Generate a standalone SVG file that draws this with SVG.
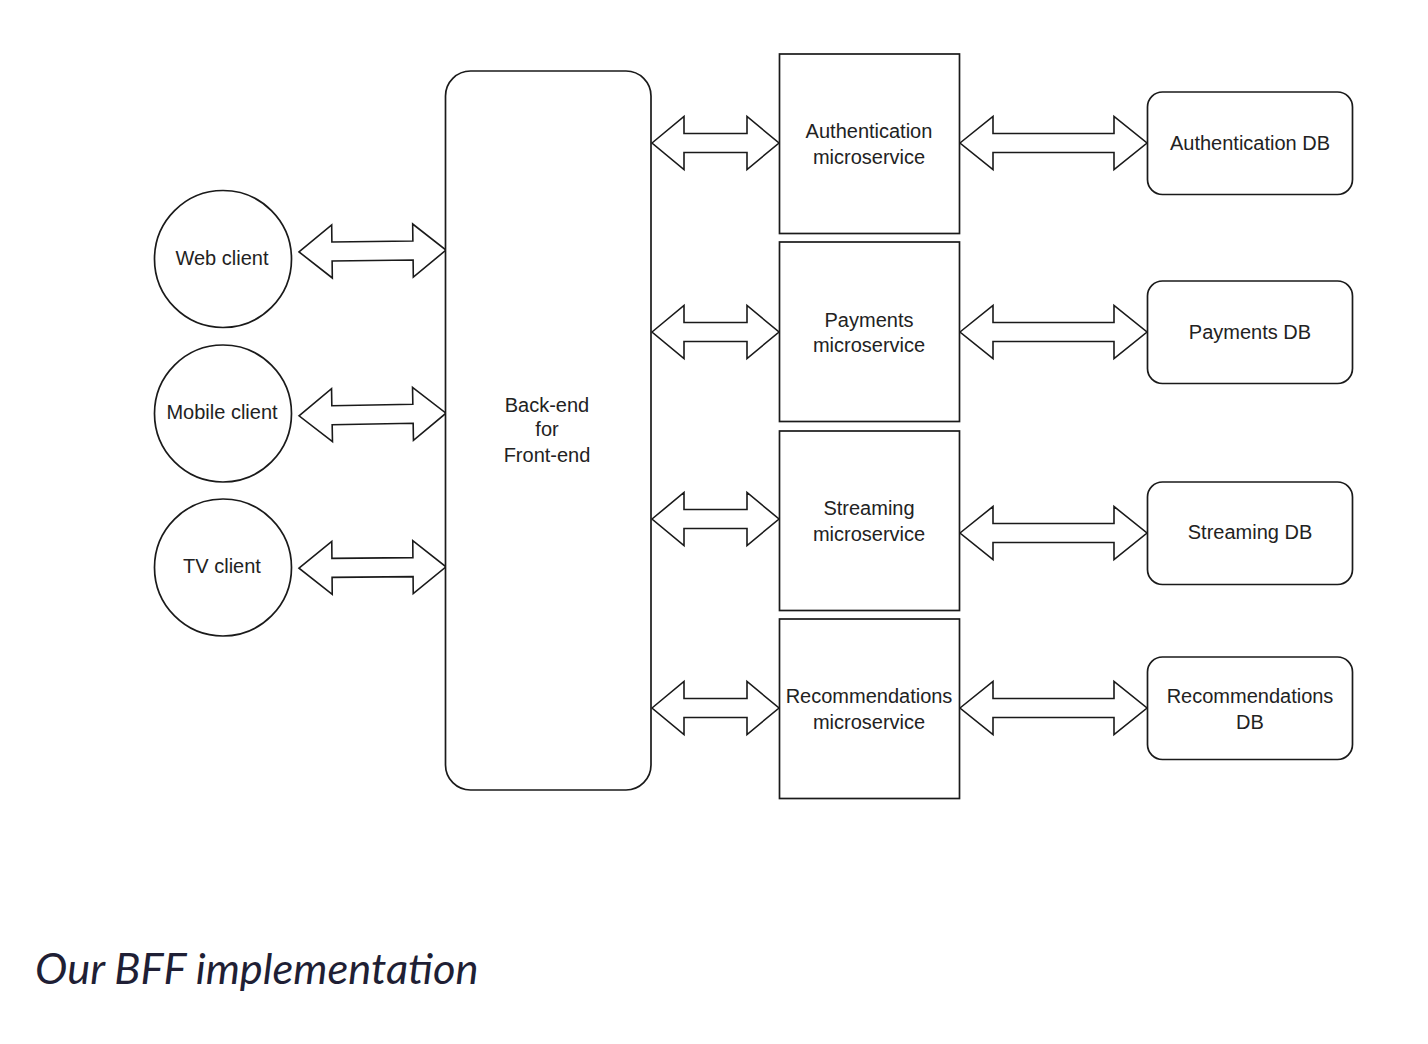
<svg xmlns="http://www.w3.org/2000/svg" width="1428" height="1044" viewBox="0 0 1428 1044">
<defs>
<style>
.shape{fill:#ffffff;stroke:#1a1a1a;stroke-width:1.7}
.arr{fill:#ffffff;stroke:#1a1a1a;stroke-width:1.6;stroke-linejoin:miter}
.lbl{font-family:"Liberation Sans",Arial,sans-serif;font-size:20px;fill:#222222;text-anchor:middle}
.cap{font-family:Lato,"Open Sans",sans-serif;font-style:italic;font-size:43.4px;fill:#1f1f35}
</style>
</defs>
<rect width="1428" height="1044" fill="#ffffff"/>

<g id="connectors">
  <!-- clients to BFF -->
  <polygon class="arr" transform="rotate(-0.7 372 251)" points="299,251 332,224.5 332,241.5 413,241.5 413,224.5 446,251 413,277.5 413,260.5 332,260.5 332,277.5"/>
  <polygon class="arr" transform="rotate(-1 372 414.5)" points="299,414.5 332,388 332,405 413,405 413,388 446,414.5 413,441 413,424 332,424 332,441"/>
  <polygon class="arr" transform="rotate(-0.5 372 567.5)" points="299,567.5 332,541 332,558 413,558 413,541 446,567.5 413,594 413,577 332,577 332,594"/>
  <!-- BFF to microservices -->
  <polygon class="arr" points="652,143 684,116.5 684,133.5 747,133.5 747,116.5 779,143 747,169.5 747,152.5 684,152.5 684,169.5"/>
  <polygon class="arr" points="652,332 684,305.5 684,322.5 747,322.5 747,305.5 779,332 747,358.5 747,341.5 684,341.5 684,358.5"/>
  <polygon class="arr" points="652,519 684,492.5 684,509.5 747,509.5 747,492.5 779,519 747,545.5 747,528.5 684,528.5 684,545.5"/>
  <polygon class="arr" points="652,708 684,681.5 684,698.5 747,698.5 747,681.5 779,708 747,734.5 747,717.5 684,717.5 684,734.5"/>
  <!-- microservices to DBs -->
  <polygon class="arr" points="960,143 993,116.5 993,133.5 1114,133.5 1114,116.5 1147,143 1114,169.5 1114,152.5 993,152.5 993,169.5"/>
  <polygon class="arr" points="960,332 993,305.5 993,322.5 1114,322.5 1114,305.5 1147,332 1114,358.5 1114,341.5 993,341.5 993,358.5"/>
  <polygon class="arr" points="960,533 993,506.5 993,523.5 1114,523.5 1114,506.5 1147,533 1114,559.5 1114,542.5 993,542.5 993,559.5"/>
  <polygon class="arr" points="960,708 993,681.5 993,698.5 1114,698.5 1114,681.5 1147,708 1114,734.5 1114,717.5 993,717.5 993,734.5"/>
</g>

<g id="web-client">
  <circle class="shape" cx="223" cy="259" r="68.5"/>
  <text class="lbl" x="222" y="265">Web client</text>
</g>
<g id="mobile-client">
  <circle class="shape" cx="223" cy="413.5" r="68.5"/>
  <text class="lbl" x="222" y="419">Mobile client</text>
</g>
<g id="tv-client">
  <circle class="shape" cx="223" cy="567.5" r="68.5"/>
  <text class="lbl" x="222" y="573">TV client</text>
</g>

<g id="bff">
  <rect class="shape" x="445.5" y="71" width="205.5" height="719" rx="25" ry="25"/>
  <text class="lbl" x="547" y="412">Back-end</text>
  <text class="lbl" x="547" y="436">for</text>
  <text class="lbl" x="547" y="462">Front-end</text>
</g>

<g id="auth-ms">
  <rect class="shape" x="779.5" y="54" width="180" height="179.5"/>
  <text class="lbl" x="869" y="138">Authentication</text>
  <text class="lbl" x="869" y="164">microservice</text>
</g>
<g id="payments-ms">
  <rect class="shape" x="779.5" y="242" width="180" height="179.5"/>
  <text class="lbl" x="869" y="327">Payments</text>
  <text class="lbl" x="869" y="352">microservice</text>
</g>
<g id="streaming-ms">
  <rect class="shape" x="779.5" y="431" width="180" height="179.5"/>
  <text class="lbl" x="869" y="515">Streaming</text>
  <text class="lbl" x="869" y="541">microservice</text>
</g>
<g id="recommendations-ms">
  <rect class="shape" x="779.5" y="619" width="180" height="179.5"/>
  <text class="lbl" x="869" y="703">Recommendations</text>
  <text class="lbl" x="869" y="729">microservice</text>
</g>

<g id="auth-db">
  <rect class="shape" x="1147.5" y="92" width="205" height="102.5" rx="15" ry="15"/>
  <text class="lbl" x="1250" y="150">Authentication DB</text>
</g>
<g id="payments-db">
  <rect class="shape" x="1147.5" y="281" width="205" height="102.5" rx="15" ry="15"/>
  <text class="lbl" x="1250" y="339">Payments DB</text>
</g>
<g id="streaming-db">
  <rect class="shape" x="1147.5" y="482" width="205" height="102.5" rx="15" ry="15"/>
  <text class="lbl" x="1250" y="539">Streaming DB</text>
</g>
<g id="recommendations-db">
  <rect class="shape" x="1147.5" y="657" width="205" height="102.5" rx="15" ry="15"/>
  <text class="lbl" x="1250" y="703">Recommendations</text>
  <text class="lbl" x="1250" y="729">DB</text>
</g>

<text class="cap" x="35" y="984">Our BFF implementation</text>
</svg>
